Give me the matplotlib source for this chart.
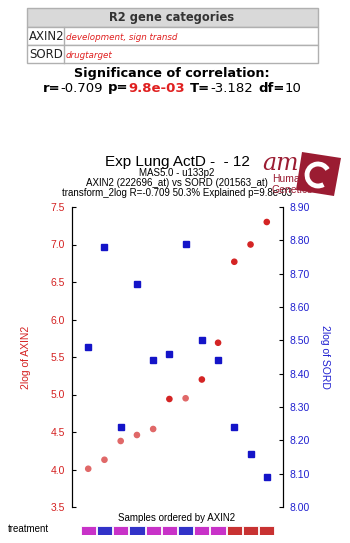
import numpy as np
import matplotlib.pyplot as plt
from matplotlib.patches import Rectangle, Polygon, Arc

# values (samples ordered by AXIN2)
samples = np.arange(1, 13)
axin2 = [4.01, 4.13, 4.38, 4.46, 4.54, 4.94, 4.95, 5.20, 5.69, 6.77, 7.00, 7.30]
sord = [8.48, 8.78, 8.24, 8.67, 8.44, 8.46, 8.79, 8.50, 8.44, 8.24, 8.16, 8.09]
axin2_colors = ['#e06868', '#e06868', '#e06868', '#e06868', '#e06868', '#d42424',
                '#e06868', '#d42424', '#d42424', '#d42424', '#d42424', '#d42424']
treatment = ['#c832c8', '#3232c8', '#c832c8', '#3232c8', '#c832c8', '#c832c8',
             '#3232c8', '#c832c8', '#c832c8', '#c83232', '#c83232', '#c83232']
left_ticks = [3.5, 4.0, 4.5, 5.0, 5.5, 6.0, 6.5, 7.0, 7.5]
right_ticks = [8.0, 8.1, 8.2, 8.3, 8.4, 8.5, 8.6, 8.7, 8.8, 8.9]

W, H = 350, 543
fig = plt.figure(figsize=(W / 100, H / 100), dpi=100)
plt.rcParams['font.family'] = ['Liberation Sans', 'DejaVu Sans']


def fx(px):
    return px / W


def fy(py):
    return 1 - py / H


# main scatter axes
ax1 = fig.add_axes([fx(72), fy(507), fx(283) - fx(72), fy(207) - fy(507)])
ax2 = ax1.twinx()
ax1.set_xlim(0, 13)
ax1.set_ylim(3.5, 7.5)
ax2.set_ylim(8.0, 8.9)
ax1.set_xticks([])

ax2.plot(samples, sord, 's', color='#1414c8', markersize=4, linestyle='none', zorder=3)
ax1.scatter(samples, axin2, c=axin2_colors, s=14, zorder=3)

for a in (ax1, ax2):
    a.spines['top'].set_visible(False)
    a.spines['bottom'].set_visible(False)
ax1.set_yticks(left_ticks)
ax1.set_yticklabels(['%.1f' % t for t in left_ticks])
ax2.set_yticks(right_ticks)
ax2.set_yticklabels(['%.2f' % t for t in right_ticks])
ax1.tick_params(axis='y', direction='in', length=3, labelsize=7.5, labelcolor='#d42020', pad=5)
ax2.tick_params(axis='y', direction='in', length=3, labelsize=7.5, labelcolor='#2020d0', pad=5)
ax1.set_ylabel('2log of AXIN2', color='#d42020', fontsize=7.5, labelpad=14)
ax2.set_ylabel('2log of SORD', color='#2020d0', fontsize=7.5, rotation=-90, labelpad=14)
ax1.patch.set_visible(False)

# treatment bar
ax3 = fig.add_axes([fx(72), fy(535), fx(283) - fx(72), fy(526) - fy(535)])
ax3.set_xlim(0, 13)
ax3.set_ylim(0, 1)
ax3.bar(samples, [1] * len(samples), width=0.94, color=treatment, edgecolor='white', linewidth=0.6)
ax3.axis('off')

# overlay for header, titles and logo (pixel coords)
ov = fig.add_axes([0, 0, 1, 1])
ov.set_xlim(0, W)
ov.set_ylim(H, 0)
ov.axis('off')
ov.patch.set_visible(False)

# gene categories table
ov.add_patch(Rectangle((27, 8), 291, 19, facecolor='#d9d9d9', edgecolor='#b0b0b0', lw=1))
ov.add_patch(Rectangle((27, 27), 291, 18, facecolor='white', edgecolor='#b0b0b0', lw=1))
ov.add_patch(Rectangle((27, 45), 291, 18, facecolor='white', edgecolor='#b0b0b0', lw=1))
ov.plot([64, 64], [27, 63], color='#b0b0b0', lw=1)
ov.text(172, 18, 'R2 gene categories', ha='center', va='center', fontsize=8.3,
        fontweight='bold', color='#333333', family='DejaVu Sans')
ov.text(29, 36.5, 'AXIN2', ha='left', va='center', fontsize=8.5, color='#222222', family='DejaVu Sans')
ov.text(29, 54.5, 'SORD', ha='left', va='center', fontsize=8.5, color='#222222', family='DejaVu Sans')
ov.text(66, 37, 'development, sign transd', ha='left', va='center', fontsize=6.3,
        style='italic', color='#e02020', family='DejaVu Sans')
ov.text(66, 55, 'drugtarget', ha='left', va='center', fontsize=6.3,
        style='italic', color='#e02020', family='DejaVu Sans')

ov.text(172, 73, 'Significance of correlation:', ha='center', va='center', fontsize=9.2,
        fontweight='bold', family='DejaVu Sans')

pieces = [('r=', 'bold', 'black', 0), ('-0.709', 'normal', 'black', 5),
          ('p=', 'bold', 'black', 0), ('9.8e-03', 'bold', '#e02020', 5),
          ('T=', 'bold', 'black', 0), ('-3.182', 'normal', 'black', 5),
          ('df=', 'bold', 'black', 0), ('10', 'normal', 'black', 0)]
fig.canvas.draw()
renderer = fig.canvas.get_renderer()
objs = []
x = 0
for s, w, c, gap in pieces:
    t = ov.text(x, 88, s, ha='left', va='center', fontsize=9.5, fontweight=w, color=c,
                family='DejaVu Sans')
    wid = t.get_window_extent(renderer).width
    objs.append((t, x))
    x += wid + gap
shift = 172 - x / 2
for t, x0 in objs:
    t.set_x(x0 + shift)

# chart titles
ov.text(177, 162, 'Exp Lung ActD -  - 12', ha='center', va='center', fontsize=11)
ov.text(177, 173, 'MAS5.0 - u133p2', ha='center', va='center', fontsize=7)
ov.text(177, 183, 'AXIN2 (222696_at) vs SORD (201563_at)', ha='center', va='center', fontsize=7)
ov.text(177, 193, 'transform_2log R=-0.709 50.3% Explained p=9.8e-03', ha='center',
        va='center', fontsize=7)

# logo
logo = '#9b1c32'
ov.add_patch(Polygon([(302, 152), (341, 158), (334, 196), (296, 190)], closed=True,
                     facecolor=logo, edgecolor='none'))
ov.add_patch(Arc((318, 175), 22, 22, theta1=60, theta2=330, color='white', lw=3.5))
ov.text(262, 170, 'am', ha='left', va='baseline', fontsize=17, style='italic',
        family='DejaVu Serif', color=logo)
ov.text(272, 182, 'Human', ha='left', va='baseline', fontsize=7.5, color=logo)
ov.text(272, 193, 'Genetics', ha='left', va='baseline', fontsize=7.5, color=logo)

ov.text(177, 518, 'Samples ordered by AXIN2', ha='center', va='center', fontsize=7)
ov.text(8, 529, 'treatment', ha='left', va='center', fontsize=7)

fig.savefig('out.png', dpi=100)
